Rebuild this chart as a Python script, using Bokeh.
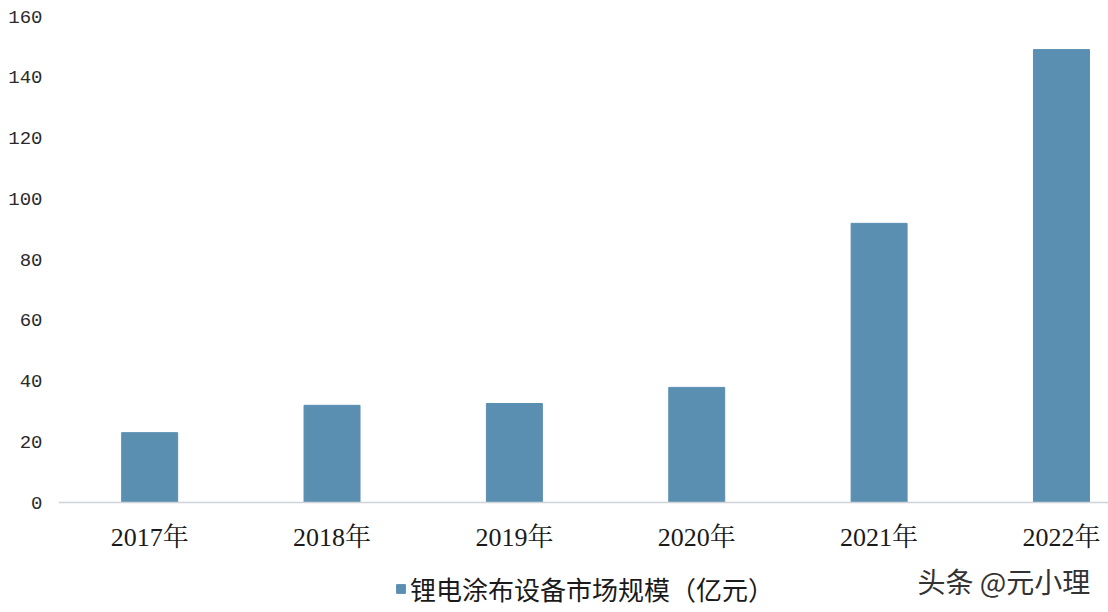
from bokeh.plotting import figure
from bokeh.models import ColumnDataSource, FixedTicker, Legend, LegendItem, Label, Span
from bokeh.core.properties import value
from bokeh.embed import file_html
from bokeh.resources import INLINE

years = ["2017年", "2018年", "2019年", "2020年", "2021年", "2022年"]
values = [23.0, 32.0, 32.6, 37.9, 91.9, 149.1]
y_ticks = [0, 20, 40, 60, 80, 100, 120, 140, 160]
series_name = "锂电涂布设备市场规模（亿元）"
watermark = "头条 @元小理"

idx = list(range(len(years)))
src = ColumnDataSource(dict(x=idx, top=values))
lab_src = ColumnDataSource(dict(x=idx, y=[-11.5] * len(idx), text=years))

BAR = "#5a8fb2"
NUM_FONT = "Liberation Mono, Noto Sans CJK SC"

p = figure(width=1108, height=612, output_backend="svg", toolbar_location=None,
           x_range=(-0.5, 5.258), y_range=(-36.21, 160),
           min_border_left=58, min_border_right=0, min_border_top=16, min_border_bottom=0)
p.background_fill_color = "white"
p.border_fill_color = "white"
p.outline_line_color = None
p.xgrid.visible = False
p.ygrid.visible = False
p.xaxis.visible = False

r = p.vbar(x="x", top="top", width=0.307, source=src, fill_color=BAR, line_color=BAR)

# category labels under the baseline
p.text(x="x", y="y", text="text", source=lab_src, text_align="center",
       text_baseline="middle", text_font=value("Liberation Serif, Noto Serif CJK SC, Noto Sans CJK SC"),
       text_font_size="26px", text_color="#1a1a1a")

p.add_layout(Span(location=0, dimension="width", line_color="#cfd3d8", line_width=1.5))

p.yaxis.ticker = FixedTicker(ticks=y_ticks)
p.yaxis.axis_line_color = None
p.yaxis.major_tick_line_color = None
p.yaxis.minor_tick_line_color = None
p.yaxis.major_tick_out = 0
p.yaxis.major_tick_in = 0
p.yaxis.major_label_standoff = 16
p.yaxis.major_label_text_font = NUM_FONT
p.yaxis.major_label_text_font_size = "19px"
p.yaxis.major_label_text_color = "#2a2a2a"

legend = Legend(items=[LegendItem(label=series_name, renderers=[r])],
                location=(337, 5), orientation="horizontal",
                padding=0, margin=0, border_line_color=None, background_fill_alpha=0,
                glyph_width=11, glyph_height=11, label_standoff=4,
                label_text_font="Noto Sans CJK SC", label_text_font_size="26px",
                label_text_color="#1a1a1a")
p.add_layout(legend, "center")

wm = Label(x=4.21, y=-26, text=watermark, text_font="Noto Sans CJK SC",
           text_font_size="28px", text_color="#333333", text_baseline="middle",
           text_align="left")
p.add_layout(wm)

open("out.html", "w").write(file_html(p, INLINE))
